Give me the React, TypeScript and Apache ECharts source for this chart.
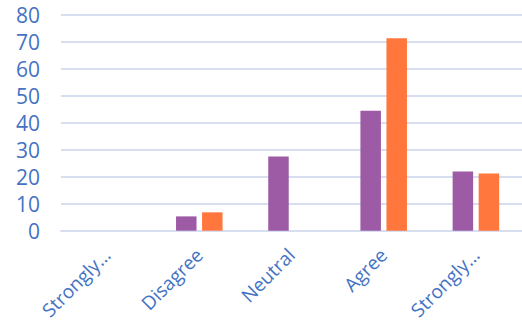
import React, { useEffect, useRef } from "react";
import * as echarts from "echarts";

const categories = ["Strongly disagree", "Disagree", "Neutral", "Agree", "Strongly agree"];
const seriesA = [0, 5.3, 27.5, 44.4, 21.9];
const seriesB = [0, 6.8, 0, 71.3, 21.2];
const yTicks = [0, 10, 20, 30, 40, 50, 60, 70, 80];

const BLUE = "#4472C4";
const GRID = "#D6DEF0";

export default function App() {
  const ref = useRef<HTMLDivElement>(null);
  useEffect(() => {
    const chart = echarts.init(ref.current!, null, { renderer: "svg" });
    chart.setOption({
      animation: false,
      grid: {
        left: 61,
        right: 0,
        top: 14.7,
        bottom: 95.3,
        containLabel: false,
        outerBoundsMode: "none",
      },
      xAxis: {
        type: "category",
        data: categories,
        axisLine: { show: true, lineStyle: { color: GRID, width: 2 } },
        axisTick: { show: false },
        axisLabel: {
          rotate: 45,
          margin: 21,
          color: BLUE,
          fontFamily: "Open Sans",
          fontSize: 19,
          interval: 0,
          formatter: (v: string) => (v.length > 9 ? v.split(" ")[0] + "…" : v),
        },
      },
      yAxis: {
        type: "value",
        min: yTicks[0],
        max: yTicks[yTicks.length - 1],
        interval: 10,
        axisLine: { show: false },
        axisTick: { show: false },
        splitLine: { lineStyle: { color: GRID, width: 2 } },
        axisLabel: {
          color: BLUE,
          fontFamily: "Open Sans",
          fontSize: 21,
          margin: 21,
        },
      },
      series: [
        {
          type: "bar",
          data: seriesA,
          barWidth: 20.5,
          barGap: "27%",
          itemStyle: { color: "#9C5BA4" },
        },
        {
          type: "bar",
          data: seriesB,
          barWidth: 20.5,
          barGap: "27%",
          itemStyle: { color: "#FF773D" },
        },
      ],
    });
    return () => chart.dispose();
  }, []);
  return (
    <div
      ref={ref}
      style={{ position: "absolute", left: 0, top: 0, width: 522, height: 326, background: "#fff" }}
    />
  );
}
